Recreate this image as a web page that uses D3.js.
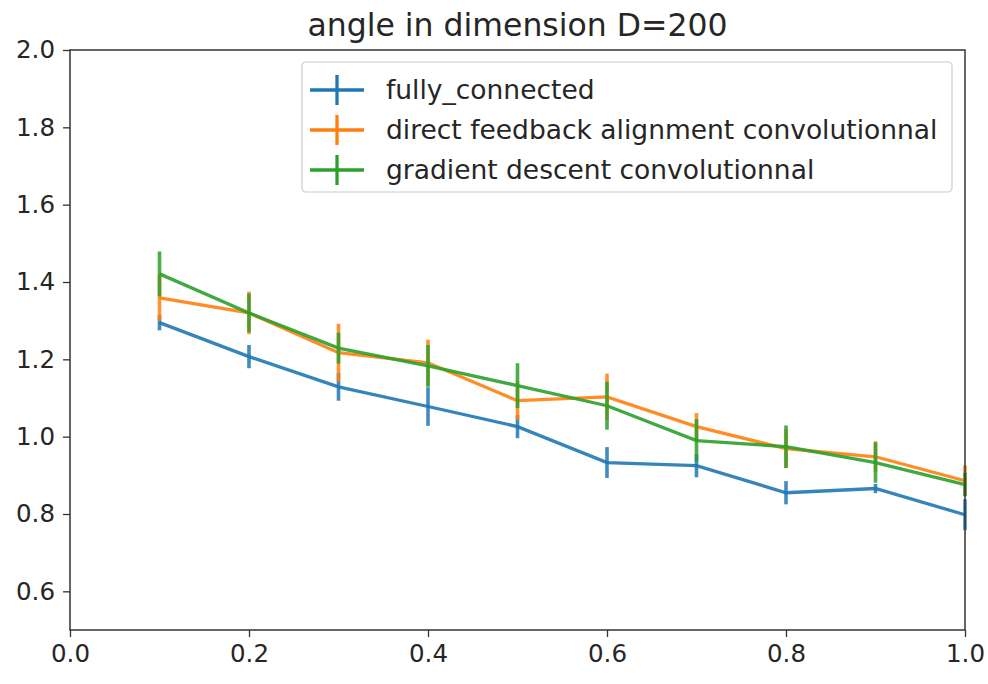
<!DOCTYPE html>
<html>
<head>
<meta charset="utf-8">
<script src="https://cdn.jsdelivr.net/npm/d3@7"></script>
<style>
  body { margin: 0; background: #fff; }
  text { font-family: "DejaVu Sans", sans-serif; fill: #262626; }
</style>
</head>
<body>
<div id="chart"></div>
<script>
// values
var xValues = [0.1, 0.2, 0.3, 0.4, 0.5, 0.6, 0.7, 0.8, 0.9, 1.0];
var fullyConnected = [1.295, 1.207, 1.129, 1.078, 1.026, 0.933, 0.925, 0.855, 0.866, 0.798];
var fullyConnectedErr = [0.02, 0.03, 0.036, 0.05, 0.03, 0.04, 0.03, 0.03, 0.012, 0.04];
var dfaConv = [1.359, 1.320, 1.217, 1.191, 1.093, 1.103, 1.026, 0.969, 0.948, 0.886];
var dfaConvErr = [0.06, 0.055, 0.075, 0.06, 0.05, 0.06, 0.035, 0.05, 0.04, 0.04];
var gdConv = [1.421, 1.320, 1.229, 1.183, 1.132, 1.080, 0.990, 0.974, 0.933, 0.876];
var gdConvErr = [0.058, 0.05, 0.04, 0.054, 0.058, 0.062, 0.055, 0.055, 0.052, 0.03];
var seriesNames = ["fully_connected", "direct feedback alignment convolutionnal", "gradient descent convolutionnal"];
var seriesColors = ["#1f77b4", "#ff7f0e", "#2ca02c"];
var xTicks = [0.0, 0.2, 0.4, 0.6, 0.8, 1.0];
var yTicks = [0.6, 0.8, 1.0, 1.2, 1.4, 1.6, 1.8, 2.0];
var title = "angle in dimension D=200";

var width = 988, height = 684;
var margin = {top: 50, right: 23, bottom: 54, left: 70};

var svg = d3.select("#chart")
    .append("svg")
    .attr("width", width)
    .attr("height", height);

var x = d3.scaleLinear().domain([0, 1]).range([margin.left, width - margin.right]);
var y = d3.scaleLinear().domain([0.5, 2.0]).range([height - margin.bottom, margin.top]);

// axes
var xAxis = svg.append("g")
    .attr("transform", "translate(0," + (height - margin.bottom) + ")")
    .call(d3.axisBottom(x).tickValues(xTicks).tickFormat(d3.format(".1f")).tickSize(7).tickPadding(8));
var yAxis = svg.append("g")
    .attr("transform", "translate(" + margin.left + ",0)")
    .call(d3.axisLeft(y).tickValues(yTicks).tickFormat(d3.format(".1f")).tickSize(7).tickPadding(8));
[xAxis, yAxis].forEach(function(g){
    g.select(".domain").remove();
    g.selectAll(".tick line").attr("stroke", "#333").attr("stroke-width", 1.3);
    g.selectAll(".tick text").attr("font-size", 24.5).attr("font-family", "DejaVu Sans").attr("fill", "#262626");
});

var series = [
    {name: seriesNames[0], values: fullyConnected, err: fullyConnectedErr, color: seriesColors[0]},
    {name: seriesNames[1], values: dfaConv, err: dfaConvErr, color: seriesColors[1]},
    {name: seriesNames[2], values: gdConv, err: gdConvErr, color: seriesColors[2]}
];

var line = d3.line()
    .x(function(d){ return x(d.x); })
    .y(function(d){ return y(d.y); });

series.forEach(function(s){
    var pts = xValues.map(function(v, i){ return {x: v, y: s.values[i], e: s.err[i]}; });
    var g = svg.append("g");
    g.append("path")
        .datum(pts)
        .attr("d", line)
        .attr("fill", "none")
        .attr("stroke", s.color)
        .attr("stroke-opacity", 0.9)
        .attr("stroke-width", 3.3);
    g.selectAll("line.err")
        .data(pts)
        .enter()
        .append("line")
        .attr("class", "err")
        .attr("x1", function(d){ return x(d.x); })
        .attr("x2", function(d){ return x(d.x); })
        .attr("y1", function(d){ return y(d.y - d.e); })
        .attr("y2", function(d){ return y(d.y + d.e); })
        .attr("stroke", s.color)
        .attr("stroke-opacity", 0.85)
        .attr("stroke-width", 3.6);
});

// frame
svg.append("rect")
    .attr("x", margin.left)
    .attr("y", margin.top)
    .attr("width", width - margin.left - margin.right)
    .attr("height", height - margin.top - margin.bottom)
    .attr("fill", "none")
    .attr("stroke", "#333")
    .attr("stroke-width", 1.5);

// title
svg.append("text")
    .attr("x", (margin.left + width - margin.right) / 2)
    .attr("y", 36)
    .attr("text-anchor", "middle")
    .attr("font-size", 31.5)
    .text(title);

// legend
var legend = svg.append("g").attr("transform", "translate(302,62)");
legend.append("rect")
    .attr("width", 650)
    .attr("height", 130)
    .attr("rx", 4)
    .attr("fill", "#fff")
    .attr("fill-opacity", 0.8)
    .attr("stroke", "#ccc")
    .attr("stroke-width", 1.2);
series.forEach(function(s, i){
    var ly = 28 + i * 40;
    var row = legend.append("g").attr("transform", "translate(0," + ly + ")");
    row.append("line")
        .attr("x1", 8).attr("x2", 62).attr("y1", 0).attr("y2", 0)
        .attr("stroke", s.color).attr("stroke-width", 3.3);
    row.append("line")
        .attr("x1", 35).attr("x2", 35).attr("y1", -15).attr("y2", 15)
        .attr("stroke", s.color).attr("stroke-width", 3.3);
    row.append("text")
        .attr("x", 84)
        .attr("y", 9)
        .attr("font-size", 26.5)
        .text(s.name);
});
</script>
</body>
</html>
